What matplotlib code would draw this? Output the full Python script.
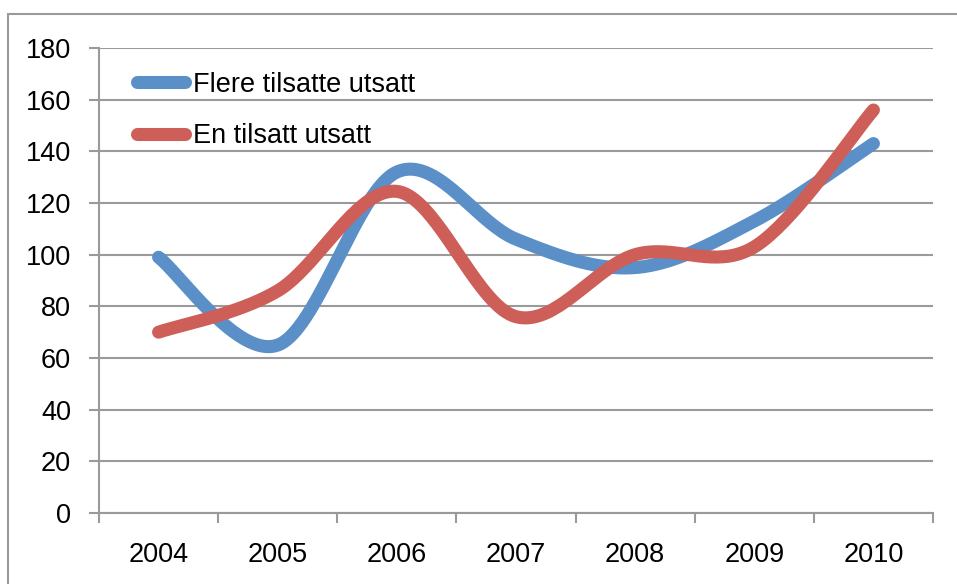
import numpy as np
import matplotlib
matplotlib.use("Agg")
import matplotlib.pyplot as plt
from matplotlib.patches import Rectangle

years = ["2004", "2005", "2006", "2007", "2008", "2009", "2010"]
flere = [99, 65, 132, 106, 95, 113, 143]
en = [70, 86, 124.5, 76, 100, 103, 156]
series_names = ["Flere tilsatte utsatt", "En tilsatt utsatt"]
colors = ["#5B8FC8", "#CD5F58"]
yticks = [0, 20, 40, 60, 80, 100, 120, 140, 160, 180]

FONT = ["Liberation Sans Narrow", "Liberation Sans", "DejaVu Sans"]
FS = 19.5


def smooth(xs, ys, n=40):
    xs = np.asarray(xs, float)
    ys = np.asarray(ys, float)
    P = np.column_stack([xs, ys])
    m = len(P)
    out = []
    for i in range(m - 1):
        p0 = P[max(i - 1, 0)]
        p1 = P[i]
        p2 = P[i + 1]
        p3 = P[min(i + 2, m - 1)]
        c1 = p1 + (p2 - p0) / 6.0
        c2 = p2 - (p3 - p1) / 6.0
        t = np.linspace(0, 1, n)[:, None]
        b = ((1 - t) ** 3) * p1 + 3 * ((1 - t) ** 2) * t * c1 + 3 * (1 - t) * t ** 2 * c2 + t ** 3 * p2
        out.append(b if i == 0 else b[1:])
    arr = np.vstack(out)
    return arr[:, 0], arr[:, 1]


fig = plt.figure(figsize=(9.57, 5.84), dpi=100)
ax = fig.add_axes([99 / 957, 1 - 513 / 584, (933 - 99) / 957, (513 - 48) / 584])

x = np.arange(len(years))
for vals, name, c in zip([flere, en], series_names, colors):
    sx, sy = smooth(x, vals)
    ax.plot(sx, sy, color=c, lw=9.4, solid_capstyle="round", solid_joinstyle="round", label=name)

ax.set_xlim(-0.5, len(years) - 0.5)
ax.set_ylim(0, 180)
ax.set_yticks(yticks)
ax.set_yticklabels([str(v) for v in yticks], fontfamily=FONT, fontsize=FS)
ax.set_xticks(x)
ax.set_xticklabels(years, fontfamily=FONT, fontsize=FS)
ax.set_xticks(np.arange(-0.5, len(years)), minor=True)
ax.tick_params(axis="x", which="major", length=0, pad=21)
ax.tick_params(axis="x", which="minor", length=7, width=1.5, color="#9A9A9A", direction="out")
ax.tick_params(axis="y", which="major", length=7.2, width=1.5, color="#9A9A9A", direction="out", pad=13)
ax.grid(axis="y", color="#9A9A9A", lw=1.5)
ax.set_axisbelow(True)
for s in ["top", "right"]:
    ax.spines[s].set_visible(False)
for s in ["left", "bottom"]:
    ax.spines[s].set_color("#9A9A9A")
    ax.spines[s].set_linewidth(1.5)

leg = ax.legend(loc="upper left", bbox_to_anchor=(0.033, 0.972), frameon=False,
                prop={"family": FONT, "size": FS}, handlelength=1.75, handletextpad=0.3,
                labelspacing=0.93, borderaxespad=0)

fig.patches.append(Rectangle((8 / 957, -0.05), 1.2, 1 - 14 / 584 + 0.05, transform=fig.transFigure,
                             fill=False, edgecolor="#9A9A9A", lw=1.5))

fig.savefig("out.png", dpi=100)
